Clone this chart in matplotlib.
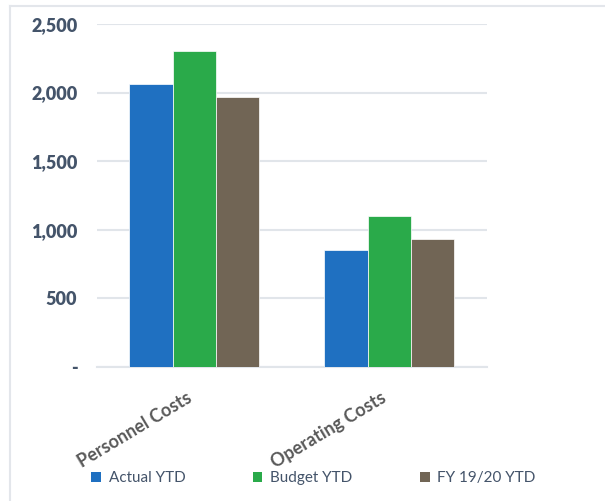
import matplotlib
matplotlib.use("Agg")
import matplotlib.pyplot as plt
from matplotlib.ticker import FuncFormatter, MultipleLocator
from matplotlib.patches import Patch
from matplotlib.lines import Line2D
import numpy as np

# data
categories = ["Personnel Costs", "Operating Costs"]
series_names = ["Actual YTD", "Budget YTD", "FY 19/20 YTD"]
actual_ytd = [2060, 850]
budget_ytd = [2300, 1100]
fy1920_ytd = [1970, 930]
colors = ["#1F70C1", "#2AAA4A", "#716555"]

plt.rcParams['font.family'] = ['Lato', 'DejaVu Sans']

fig = plt.figure(figsize=(6.05, 5.01), dpi=100)
ax = fig.add_axes([0.16, 0.268, 0.6446, 0.684])

x = np.arange(len(categories))
w = 0.667 / 3
for i, vals in enumerate([actual_ytd, budget_ytd, fy1920_ytd]):
    ax.bar(x + (i - 1) * w, vals, w, color=colors[i], label=series_names[i],
           edgecolor='white', linewidth=0.5, zorder=3)

ax.set_xlim(-0.5, 1.5)
ax.set_ylim(0, 2500)
ax.yaxis.set_major_locator(MultipleLocator(500))
ax.yaxis.set_major_formatter(FuncFormatter(lambda v, p: "-" if v == 0 else f"{v:,.0f}"))
ax.grid(axis='y', color='#E1E5EA', lw=1.5, zorder=0)
ax.axhline(0, color='#E1E5EA', lw=1.5, zorder=1, clip_on=False)
for s in ax.spines.values():
    s.set_visible(False)
ax.tick_params(axis='y', length=0, pad=14, labelsize=13, labelcolor='#44546A')
for lab in ax.get_yticklabels():
    lab.set_fontweight('heavy')
ax.set_xticks(x)
ax.set_xticklabels(categories, rotation=31, ha='right', fontsize=13,
                   fontweight='bold', color='#595959')
ax.tick_params(axis='x', length=0, pad=16)

# legend at the bottom
handles = [Patch(facecolor=c) for c in colors]
fig.legend(handles, series_names, loc='center left',
           bbox_to_anchor=(91 / 605, 1 - 478 / 501), ncol=3, frameon=False,
           fontsize=11, labelcolor='#44546A', handlelength=0.65, handleheight=0.65,
           handletextpad=0.5, columnspacing=4.4, borderpad=0, borderaxespad=0)

# chart area border (top and left only visible)
fig.add_artist(Line2D([10 / 605, 1], [1 - 6 / 501] * 2, transform=fig.transFigure,
                      color='#E3E6EB', lw=1.5))
fig.add_artist(Line2D([10 / 605] * 2, [0, 1 - 6 / 501], transform=fig.transFigure,
                      color='#E3E6EB', lw=1.5))

fig.savefig("out.png", dpi=100)
